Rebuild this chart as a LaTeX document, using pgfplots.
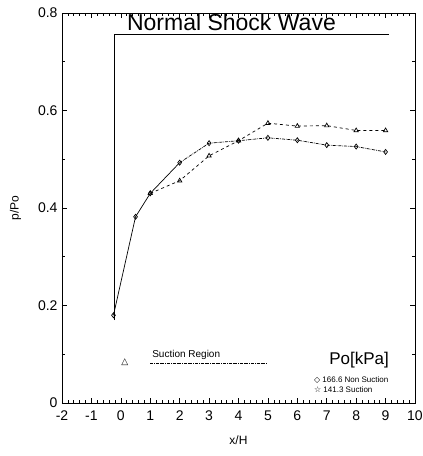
\documentclass[border=0pt]{standalone}
\usepackage{pgfplots}
\pgfplotsset{compat=1.18}
\usepackage{fontspec}
\setmainfont{Liberation Sans}
\newfontfamily\symfont{DejaVu Sans}
\begin{document}
\begin{tikzpicture}
\begin{axis}[
  at={(0,0)}, anchor=south west,
  scale only axis,
  width=353pt, height=390pt,
  xmin=-2, xmax=10, ymin=0, ymax=0.8,
  xtick={-2,-1,0,1,2,3,4,5,6,7,8,9,10},
  ytick={0,0.2,0.4,0.6,0.8},
  yticklabels={0,0.2,0.4,0.6,0.8},
  minor x tick num=4,
  minor y tick num=1,
  tick align=inside,
  major tick length=5pt, minor tick length=3pt,
  axis line style={line width=0.9pt},
  every tick/.style={black, line width=0.6pt},
  /pgf/number format/assume math mode=true,
  tick label style={font=\fontsize{14}{16}\selectfont},
  xticklabel style={yshift=-4pt},
  yticklabel style={xshift=-1pt},
  xlabel={x/H}, ylabel={p/Po},
  xlabel style={font=\fontsize{12}{14}\selectfont, yshift=-8pt},
  ylabel style={font=\fontsize{12}{14}\selectfont, yshift=10pt},
  clip=false,
]
% shock region frame
\addplot[black, line width=0.9pt, no markers] coordinates {(-0.2,0.17) (-0.2,0.757) (9.1,0.757)};
% shared initial segment
\addplot[black, line width=0.7pt, mark=diamond, mark size=2.5pt, mark options={solid, fill=white}] coordinates {(-0.25,0.180) (0.5,0.382) (1,0.430)};
% series A: 166.6 Non Suction (diamonds)
\addplot[black, line width=0.7pt, no markers] coordinates {(1,0.430) (2,0.493)};
\addplot[black, line width=0.7pt, densely dashdotted, mark=diamond, mark size=2.5pt, mark options={solid, fill=white}] coordinates {
(2,0.493) (3,0.533) (4,0.538) (5,0.544) (6,0.539) (7,0.529) (8,0.526) (9,0.515)};
% series B: 141.3 Suction (triangles)
\addplot[black, line width=0.7pt, dashed, mark=triangle, mark size=2.5pt, mark options={solid, fill=white}] coordinates {
(1,0.430) (2,0.456) (3,0.507) (4,0.538) (5,0.574) (6,0.568) (7,0.569) (8,0.559) (9,0.559)};
% legend items
\addplot[black, line width=0.6pt, densely dashdotted, no markers] coordinates {(1.0,0.082) (4.97,0.082)};
\node[font=\symfont\fontsize{9}{10}\selectfont] at (axis cs:0.14,0.084) {△};
\node[anchor=west, font=\fontsize{10}{12}\selectfont] at (axis cs:0.95,0.098) {Suction Region};
\node[font=\fontsize{17}{19}\selectfont] at (axis cs:8.1,0.088) {Po[kPa]};
\node[anchor=west, font=\fontsize{8}{9}\selectfont] at (axis cs:6.45,0.047) {{\symfont◇} 166.6 Non Suction};
\node[anchor=west, font=\fontsize{8}{9}\selectfont] at (axis cs:6.45,0.027) {{\symfont☆} 141.3 Suction};
\node[font=\fontsize{23}{26}\selectfont] at (axis cs:3.76,0.782) {Normal Shock Wave};
\end{axis}
\pgfresetboundingbox
\useasboundingbox (-62pt,-53pt) rectangle (361pt,403pt);
\end{tikzpicture}
\end{document}
